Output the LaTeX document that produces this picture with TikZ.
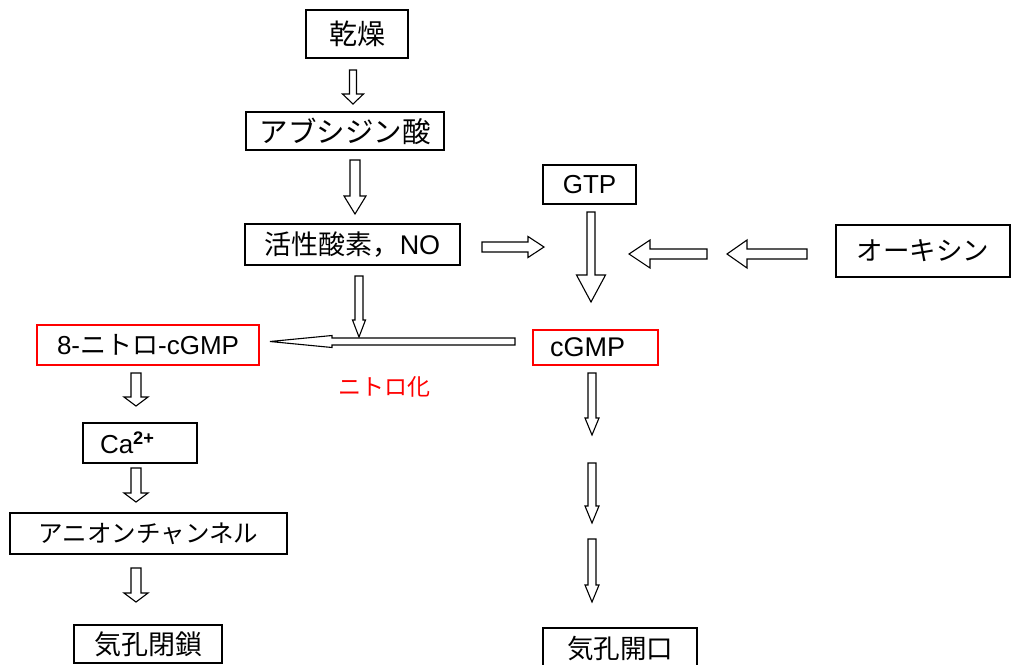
\documentclass[tikz,border=0pt]{standalone}
\usepackage{fontspec}
\setmainfont{Liberation Sans}
\newfontfamily\jp{Noto Sans CJK JP}
\newcommand{\fs}[1]{\fontsize{#1}{#1}\selectfont}
\tikzset{
  box/.style={draw=black, line width=1.4pt, fill=white, inner sep=0pt,
    font=\fs{26}},
  redbox/.style={box, draw=red},
  blk/.style={draw=black, line width=1.1pt, fill=white, line join=miter},
}
% down arrow: x, ytop, ytip, shaft half width, head half width, head length
\newcommand{\arrD}[6]{\draw[blk] (#1-#4,#2) -- (#1+#4,#2) -- (#1+#4,#3-#6) -- (#1+#5,#3-#6) -- (#1,#3) -- (#1-#5,#3-#6) -- (#1-#4,#3-#6) -- cycle;}
% right arrow: y, xtail, xtip, shaft half width, head half width, head length
\newcommand{\arrR}[6]{\draw[blk] (#2,#1-#4) -- (#3-#6,#1-#4) -- (#3-#6,#1-#5) -- (#3,#1) -- (#3-#6,#1+#5) -- (#3-#6,#1+#4) -- (#2,#1+#4) -- cycle;}
% left arrow
\newcommand{\arrL}[6]{\draw[blk] (#2,#1-#4) -- (#3+#6,#1-#4) -- (#3+#6,#1-#5) -- (#3,#1) -- (#3+#6,#1+#5) -- (#3+#6,#1+#4) -- (#2,#1+#4) -- cycle;}
\begin{document}
\begin{tikzpicture}[x=1pt,y=-1pt]
\useasboundingbox (0,0) rectangle (1014,664);
\fill[white] (0,0) rectangle (1014,664);

% nodes
\node[box, minimum width=102pt, minimum height=48pt, font=\fs{28}\jp] (dry) at (357,34) {乾燥};
\node[box, minimum width=198pt, minimum height=38pt, font=\fs{28.5}\jp] (aba) at (345,131) {アブシジン酸};
\node[box, minimum width=215pt, minimum height=41pt, font=\fs{27}] (ros) at (352.5,244.5) {{\jp 活性酸素，}NO};
\node[box, minimum width=93pt, minimum height=39pt] (gtp) at (589.5,184.5) {GTP};
\node[box, minimum width=174pt, minimum height=52pt, font=\fs{26.5}\jp] (aux) at (923,251) {オーキシン};
\node[redbox, minimum width=222pt, minimum height=40pt] (nitro) at (148,345) {8-{\jp ニトロ}-cGMP};
\node[redbox, minimum height=35pt, text width=91pt, inner xsep=17pt, align=left, font=\fs{27}] (cgmp) at (595.5,347.5) {cGMP};
\node[box, minimum height=40pt, text width=80pt, inner xsep=17pt, align=left] (ca) at (140,443) {Ca\textsuperscript{\textbf{2+}}};
\node[box, minimum width=277pt, minimum height=41pt, font=\fs{24.5}\jp] (anion) at (148.5,533.5) {アニオンチャンネル};
\node[box, minimum width=148pt, minimum height=38pt, font=\fs{27}\jp] (close) at (148,644) {気孔閉鎖};
\node[box, minimum width=154pt, minimum height=40pt, font=\fs{26.5}\jp] (open) at (620,648) {気孔開口};
\node[text=red, inner sep=0pt, font=\fs{23}\jp] (nitrolab) at (384,387) {ニトロ化};

% hollow arrows
\arrD{353}{70}{104}{3.5}{10.5}{10}
\arrD{355}{160}{214}{5}{11}{18}
\arrD{359}{276}{337}{4}{6.5}{17}
\arrR{247}{482}{544}{5}{10.5}{16}
\arrD{591}{212}{302}{4}{14.5}{27}
\arrL{254}{807}{727}{5}{14}{20}
\arrL{254}{707}{629}{5}{14}{21}
\arrL{341.5}{515}{270}{3.5}{6}{62}
\arrD{136}{373}{406}{5}{12}{9}
\arrD{136}{468}{502}{5}{12}{9}
\arrD{136}{568}{602}{5}{12}{9}
\arrD{592}{373}{435}{4}{7}{17}
\arrD{592}{463}{523}{4}{7}{17}
\arrD{592}{539}{602}{4}{7}{17}
\end{tikzpicture}
\end{document}
